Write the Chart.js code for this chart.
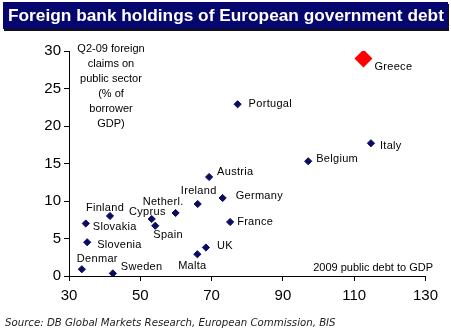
<!DOCTYPE html>
<html>
<head>
<meta charset="utf-8">
<script src="https://cdn.jsdelivr.net/npm/chart.js@4/dist/chart.umd.min.js"></script>
<style>
  html, body { margin: 0; padding: 0; background: #fff; }
  #wrap { position: relative; width: 451px; height: 333px; overflow: hidden; font-family: "Liberation Sans", Arial, sans-serif; }
  #grafico { position: absolute; left: 0; top: 0; }
  .txt { position: absolute; white-space: nowrap; color: #000; }
  #banner { position: absolute; left: 3px; top: 2px; width: 445px; height: 27px; background: #06066f; box-shadow: 1px 2px 0 #111; }
  #titulo { left: 8px; top: 2px; line-height: 27px; font-size: 17.3px; font-weight: bold; color: #fff; }
  #tituloY { left: 66px; top: 41px; width: 90px; text-align: center; font-size: 11px; line-height: 15px; white-space: normal; }
  #tituloX { right: 18px; top: 260px; font-size: 11px; line-height: 14px; }
  #fuente { left: 5px; top: 316px; font-family: "DejaVu Sans", Verdana, sans-serif; font-size: 10.2px; line-height: 14px; font-style: italic; color: #222; }
</style>
</head>
<body>
<div id="wrap">
  <canvas id="grafico" width="451" height="333"></canvas>
  <div id="banner"></div>
  <div class="txt" id="titulo">Foreign bank holdings of European government debt</div>
  <div class="txt" id="tituloY">Q2-09 foreign<br>claims on<br>public sector<br>(% of<br>borrower<br>GDP)</div>
  <div class="txt" id="tituloX">2009 public debt to GDP</div>
  <div class="txt" id="fuente">Source: DB Global Markets Research, European Commission, BIS</div>
</div>
<script>
// datos
const paises = ['Greece', 'Portugal', 'Italy', 'Belgium', 'Austria', 'Ireland', 'Germany', 'France', 'UK',
    'Malta', 'Finland', 'Slovakia', 'Slovenia', 'Denmar', 'Sweden', 'Cyprus', 'Spain', 'Netherl.'];
const deudaPublica = [112.6, 77.3, 114.7, 97.1, 69.3, 66.1, 73.1, 75.2, 68.4,
    66.0, 41.5, 34.7, 35.1, 33.6, 42.3, 53.2, 54.2, 59.9];
const tenenciaExtranjera = [29.0, 22.9, 17.7, 15.3, 13.2, 9.6, 10.4, 7.2, 3.8,
    2.9, 8.0, 7.0, 4.5, 0.9, 0.35, 7.6, 6.7, 8.4];
const destacado = 'Greece';

const ticksX = [30, 50, 70, 90, 110, 130];
const ticksY = [0, 5, 10, 15, 20, 25, 30];

// posicion de cada etiqueta respecto a su punto: [dx, dy, alineacion]
const etiquetas = {
    'Greece': [11, 8, 'left'], 'Portugal': [11, 0, 'left'], 'Italy': [9, 3, 'left'],
    'Belgium': [8, -2, 'left'], 'Austria': [8, -5, 'left'], 'Ireland': [1, -13, 'center'],
    'Germany': [13, -2, 'left'], 'France': [7, 0, 'left'], 'UK': [11, -2, 'left'],
    'Malta': [-5, 12, 'center'], 'Finland': [-5, -8, 'center'], 'Slovakia': [7, 3, 'left'],
    'Slovenia': [10, 3, 'left'], 'Denmar': [-5, -10, 'left'], 'Sweden': [8, -6, 'left'],
    'Cyprus': [14, -7, 'right'], 'Spain': [-2, 9, 'left'], 'Netherl.': [8, -11, 'right']
};

const puntosNormales = [];
const puntosDestacados = [];
paises.forEach((p, i) => {
    const punto = { x: deudaPublica[i], y: tenenciaExtranjera[i], nombre: p };
    if (p === destacado) puntosDestacados.push(punto); else puntosNormales.push(punto);
});

const pluginEtiquetas = {
    id: 'etiquetas',
    afterDatasetsDraw(chart) {
        const ctx = chart.ctx;
        ctx.save();
        ctx.font = '11px "Liberation Sans", Arial, sans-serif';
        ctx.fillStyle = '#000';
        ctx.textBaseline = 'middle';
        if ('letterSpacing' in ctx) ctx.letterSpacing = '0.3px';
        chart.data.datasets.forEach((ds, di) => {
            const meta = chart.getDatasetMeta(di);
            meta.data.forEach((el, i) => {
                const nombre = ds.data[i].nombre;
                const pos = etiquetas[nombre] || [8, 0, 'left'];
                ctx.textAlign = pos[2];
                ctx.fillText(nombre, el.x + pos[0], el.y + pos[1]);
            });
        });
        ctx.restore();
    }
};

const ctxGrafico = document.getElementById('grafico').getContext('2d');

new Chart(ctxGrafico, {
    type: 'scatter',
    data: {
        datasets: [{
            label: 'Paises',
            data: puntosNormales,
            pointStyle: 'rectRot',
            pointRadius: 3.6,
            backgroundColor: '#0b0b62',
            borderColor: '#0b0b62',
            borderWidth: 1
        }, {
            label: 'Grecia',
            data: puntosDestacados,
            pointStyle: 'rectRot',
            pointRadius: 9,
            backgroundColor: '#ff0000',
            borderColor: '#ff0000',
            borderWidth: 0
        }]
    },
    options: {
        responsive: false,
        animation: false,
        layout: { padding: { top: 51, right: 25.5, bottom: 0, left: 0 } },
        plugins: {
            legend: { display: false },
            tooltip: { enabled: false }
        },
        scales: {
            x: {
                type: 'linear',
                min: 30,
                max: 130,
                afterFit: s => { s.height = 57; },
                afterBuildTicks: s => { s.ticks = ticksX.map(v => ({ value: v })); },
                grid: { drawOnChartArea: false, drawTicks: true, tickLength: 5, color: '#000' },
                border: { color: '#000', width: 1 },
                ticks: {
                    color: '#000',
                    padding: 6,
                    maxRotation: 0,
                    font: { size: 15, family: '"Liberation Sans", Arial, sans-serif' }
                }
            },
            y: {
                min: 0,
                max: 30,
                afterFit: s => { s.width = 69; },
                afterBuildTicks: s => { s.ticks = ticksY.map(v => ({ value: v })); },
                grid: { drawOnChartArea: false, drawTicks: true, tickLength: 5, color: '#000' },
                border: { color: '#000', width: 1 },
                ticks: {
                    color: '#000',
                    padding: 3,
                    font: { size: 15, family: '"Liberation Sans", Arial, sans-serif' }
                }
            }
        }
    },
    plugins: [pluginEtiquetas]
});
</script>
</body>
</html>
